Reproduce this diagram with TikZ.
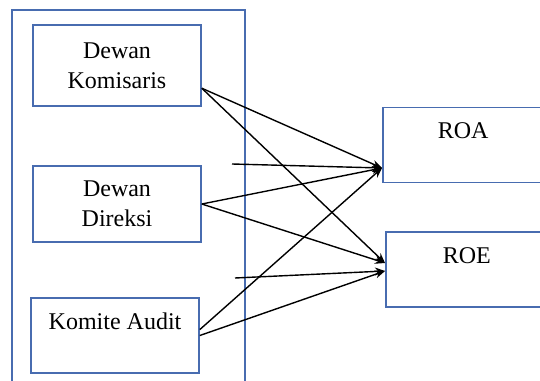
\documentclass[tikz,border=0pt]{standalone}
\usepackage{fontspec}
\setmainfont{Liberation Serif}
\usepackage{tikz}
\usetikzlibrary{arrows.meta}

\definecolor{boxblue}{RGB}{72,108,176}

\tikzset{
    box/.style={draw=boxblue, line width=0.8pt, fill=white, inner sep=0pt, align=center},
    topbox/.style={box, text height=15.5pt, text depth=22pt},
    sidebox/.style={topbox, anchor=west, align=left, text width=100pt},
    link/.style={->, black, line width=0.7pt}
}

\begin{document}
\begin{tikzpicture}[x=0.5pt, y=-0.5pt, >={Stealth[length=5pt,width=4pt]}, font=\fontsize{12}{15}\selectfont]
            \useasboundingbox (0,0) rectangle (540,380);

            % kelompok variabel independen
            \draw[boxblue, line width=0.8pt] (12,10) rectangle (245,395);

            \node[box, minimum width=84pt, minimum height=40.5pt] (dk) at (117,65.5) {Dewan\\Komisaris};
            \node[box, minimum width=84pt, minimum height=38pt] (dd) at (117,204) {Dewan\\Direksi};
            \node[topbox, minimum width=84pt] (ka) at (115,335.5) {Komite Audit};

            % variabel dependen
            \node[sidebox, inner xsep=27.5pt] (roa) at (382,145) {ROA};
            \node[sidebox, inner xsep=28.5pt] (roe) at (385,269.5) {ROE};

            \coordinate (s1) at (232,164);
            \coordinate (s2) at (235,278);

            \draw[link] (dk.-15) -- (roa.west |- 0,168);
            \draw[link] (dk.-15) -- (roe.west |- 0,263);
            \draw[link] (dd.east) -- (roa.west |- 0,168);
            \draw[link] (dd.east) -- (roe.west |- 0,263);
            \draw[link] (ka.4) -- (roa.west |- 0,168);
            \draw[link] (ka.east) -- (roe.west |- 0,271);
            \draw[link] (s1) -- (roa.west |- 0,168);
            \draw[link] (s2) -- (roe.west |- 0,271);
        \end{tikzpicture}
\end{document}
